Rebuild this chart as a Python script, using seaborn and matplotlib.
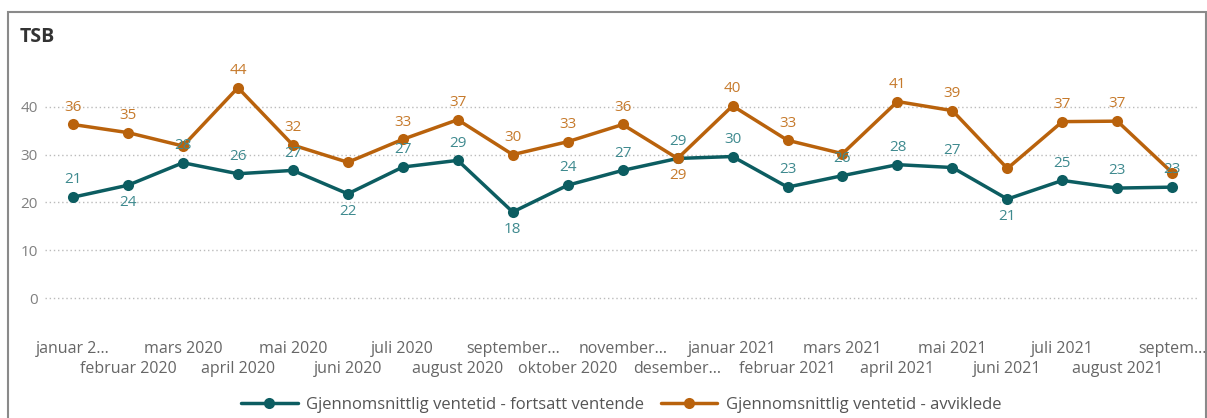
import matplotlib
matplotlib.use("Agg")
import matplotlib.pyplot as plt
import seaborn as sns
import pandas as pd
from matplotlib.patches import Rectangle

months = ["januar 2...", "februar 2020", "mars 2020", "april 2020", "mai 2020", "juni 2020",
          "juli 2020", "august 2020", "september...", "oktober 2020", "november...", "desember...",
          "januar 2021", "februar 2021", "mars 2021", "april 2021", "mai 2021", "juni 2021",
          "juli 2021", "august 2021", "septem..."]
fortsatt = [21.1, 23.6, 28.3, 26.0, 26.7, 21.8, 27.4, 28.8, 18.0, 23.6, 26.7, 29.2,
            29.6, 23.2, 25.6, 27.9, 27.3, 20.7, 24.6, 23.0, 23.2]
avviklede = [36.3, 34.6, 31.8, 44.0, 32.0, 28.4, 33.2, 37.3, 30.0, 32.7, 36.3, 29.2,
             40.2, 33.0, 30.2, 41.1, 39.2, 27.1, 36.9, 37.0, 26.2]
# label placement: 1 above, -1 below, 0 hidden
fortsatt_pos = [1, -1, 1, 1, 1, -1, 1, 1, -1, 1, 1, 1, 1, 1, 1, 1, 1, -1, 1, 1, 1]
avviklede_pos = [1, 1, 0, 1, 1, 0, 1, 1, 1, 1, 1, -1, 1, 1, 0, 1, 1, 0, 1, 1, 0]

s1 = "Gjennomsnittlig ventetid - fortsatt ventende"
s2 = "Gjennomsnittlig ventetid - avviklede"
teal = "#0c5d61"
orange = "#b9620c"
teal_lbl = "#3f8a8f"
orange_lbl = "#c67a2c"

df = pd.DataFrame({
    "idx": list(range(len(months))) * 2,
    "value": fortsatt + avviklede,
    "serie": [s1] * len(months) + [s2] * len(months),
})

sns.set_theme(style="white")
plt.rcParams["font.family"] = ["Open Sans", "DejaVu Sans"]

fig = plt.figure(figsize=(12.07, 4.18), dpi=100)
W, H = 1207, 418
ax = fig.add_axes([45 / W, 1 - 310 / H, (1197 - 45) / W, (310 - 59) / H])

sns.lineplot(data=df, x="idx", y="value", hue="serie", palette=[teal, orange],
             marker="o", markersize=8, markeredgewidth=0, linewidth=2.5, ax=ax,
             legend=True)

for vals, pos, col in ((fortsatt, fortsatt_pos, teal_lbl), (avviklede, avviklede_pos, orange_lbl)):
    for i, (v, p) in enumerate(zip(vals, pos)):
        if p:
            ax.annotate(f"{int(v + 0.5)}", (i, v), xytext=(0, 7 if p > 0 else -7),
                        textcoords="offset points", ha="center",
                        va="bottom" if p > 0 else "top", color=col, fontsize=11)

ax.set_xlim(-0.51, 20.45)
ax.set_ylim(-2.5, 50)
ax.set_yticks([0, 10, 20, 30, 40])
ax.set_yticklabels(["0", "10", "20", "30", "40"], color="#808080", fontsize=11)
ax.yaxis.grid(True, linestyle=(0, (1, 2)), color="#bbbbbb", linewidth=1)
ax.xaxis.grid(False)
ax.tick_params(axis="y", length=0, pad=5)
for sp in ax.spines.values():
    sp.set_visible(False)
ax.set_xlabel("")
ax.set_ylabel("")

even = list(range(0, len(months), 2))
odd = list(range(1, len(months), 2))
ax.set_xticks(even)
ax.set_xticklabels([months[i] for i in even], color="#666666", fontsize=11.5)
ax.set_xticks(odd, minor=True)
ax.set_xticklabels([months[i] for i in odd], minor=True, color="#666666", fontsize=11.5)
ax.tick_params(axis="x", which="major", length=0, pad=22)
ax.tick_params(axis="x", which="minor", length=0, pad=36.5)

h, l = ax.get_legend_handles_labels()
leg = ax.legend(h, l, loc="lower center", bbox_to_anchor=(0.5, -0.47), ncol=2,
                frameon=False, fontsize=12, handlelength=3.4, columnspacing=1.0,
                handletextpad=0.5)
for t in leg.get_texts():
    t.set_color("#555555")

fig.text(20 / W, 1 - 37 / H, "TSB", fontsize=14, fontweight="bold", color="#333333",
         va="center", ha="left")

fig.patches.append(Rectangle((8 / W, -0.05), (1206 - 8) / W, 1 - 12 / H + 0.05,
                             transform=fig.transFigure, fill=False,
                             edgecolor="#8a8a8a", linewidth=1.5))

fig.savefig("out.png", dpi=100)
